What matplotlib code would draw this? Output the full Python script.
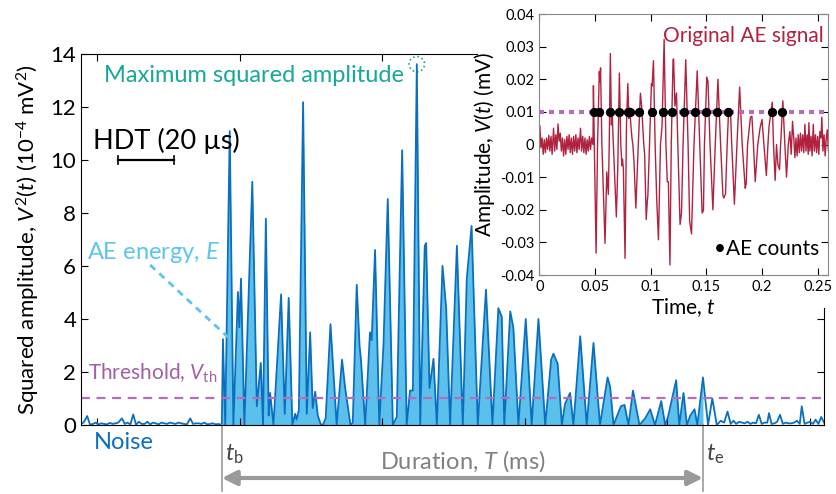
import numpy as np
import matplotlib.pyplot as plt
from matplotlib.patches import Ellipse, Rectangle
from matplotlib.ticker import FixedLocator, FormatStrFormatter

plt.rcParams['font.family'] = ['Lato', 'DejaVu Sans']
plt.rcParams['mathtext.fontset'] = 'custom'
plt.rcParams['mathtext.rm'] = 'Lato'
plt.rcParams['mathtext.it'] = 'Lato:italic'
plt.rcParams['mathtext.bf'] = 'Lato:bold'

# AE waveform, time in ms, amplitude in mV
time_ms = np.array([
    -0.0017, -0.0008, 0.0005, 0.0015, 0.0025, 0.0035, 0.0045, 0.0055, 0.0065, 0.0075,
    0.0085, 0.0095, 0.0105, 0.0115, 0.0128, 0.0138, 0.0148, 0.0158, 0.0168, 0.0178,
    0.0188, 0.0198, 0.0208, 0.0218, 0.0228, 0.0238, 0.0248, 0.0258, 0.0268, 0.0278,
    0.0288, 0.0298, 0.0308, 0.0318, 0.0328, 0.0338, 0.0348, 0.0358, 0.0370, 0.0380,
    0.0390, 0.0400, 0.0410, 0.0420, 0.0430, 0.0440, 0.0450, 0.0460, 0.0470,
    0.0482, 0.0486, 0.0494, 0.0510, 0.0523, 0.0539, 0.0544, 0.0550, 0.0562, 0.0590,
    0.0606, 0.0620, 0.0628, 0.0638, 0.0648, 0.0653, 0.0665, 0.0692, 0.0705, 0.0719,
    0.0732, 0.0742, 0.0747, 0.0755, 0.0770, 0.0783, 0.0795, 0.0804, 0.0813, 0.0822,
    0.0832, 0.0840, 0.0850, 0.0867, 0.0889, 0.0908, 0.0919, 0.0938, 0.0946, 0.0960,
    0.0970, 0.0975, 0.0990, 0.1007, 0.1013, 0.1025, 0.1040, 0.1055, 0.1070, 0.1088,
    0.1102, 0.1121, 0.1137, 0.1149, 0.1159, 0.1173, 0.1185, 0.1201, 0.1206, 0.1218,
    0.1232, 0.1244, 0.1264, 0.1277, 0.1291, 0.1315, 0.1336, 0.1350, 0.1367, 0.1389,
    0.1418, 0.1441, 0.1462, 0.1474, 0.1483, 0.1504, 0.1515, 0.1533, 0.1559, 0.1580,
    0.1604, 0.1628, 0.1649, 0.1657, 0.1672, 0.1687, 0.1698, 0.1716, 0.1728, 0.1752,
    0.1775, 0.1799, 0.1822, 0.1849, 0.1858, 0.1870, 0.1896, 0.1909, 0.1923, 0.1939,
    0.1962, 0.1982, 0.2000, 0.2017, 0.2039, 0.2053, 0.2063, 0.2092, 0.2103, 0.2118,
    0.2130, 0.2142, 0.2157, 0.2167, 0.2187, 0.2205, 0.2220, 0.2236,
    0.2250, 0.2262, 0.2274, 0.2285, 0.2295, 0.2305, 0.2315, 0.2325, 0.2335, 0.2345,
    0.2355, 0.2365, 0.2375, 0.2385, 0.2395, 0.2405, 0.2415, 0.2421, 0.2430, 0.2440,
    0.2450, 0.2460, 0.2470, 0.2480, 0.2490, 0.2500, 0.2510, 0.2520, 0.2530, 0.2537,
    0.2547, 0.2557, 0.2567, 0.2577, 0.2586, 0.2596, 0.2606, 0.2616])

amp_mv = np.array([
    -0.0020, 0.0030, 0.0058, -0.0010, 0.0020, -0.0030, 0.0015, -0.0025, 0.0020, -0.0015,
    0.0028, -0.0020, 0.0025, -0.0030, 0.0050, -0.0020, 0.0030, -0.0015, 0.0063, 0.0010,
    0.0035, -0.0020, 0.0020, -0.0035, 0.0015, -0.0030, 0.0025, -0.0015, 0.0030, -0.0025,
    0.0020, -0.0030, 0.0025, -0.0020, 0.0030, -0.0025, 0.0020, -0.0015, 0.0050, -0.0020,
    0.0025, -0.0025, 0.0020, -0.0030, 0.0015, -0.0020, 0.0025, -0.0015, 0.0020,
    0.0, 0.0180, 0.0, -0.0333, 0.0, 0.0224, 0.0192, 0.0235, 0.0, -0.0303,
    -0.0084, -0.0153, 0.0, 0.0279, 0.0060, 0.0110, 0.0, -0.0222, -0.0065, 0.0219,
    0.0, -0.0065, -0.0045, -0.0075, -0.0349, 0.0065, 0.0187, 0.0080, 0.0112, 0.0060,
    0.0020, 0.0, -0.0050, -0.0195, 0.0, 0.0157, 0.0118, 0.0, -0.0030, -0.0230,
    -0.0173, -0.0157, 0.0, 0.0187, 0.0179, 0.0257, 0.0, -0.0175, -0.0292, 0.0,
    0.0055, 0.0322, 0.0, -0.0114, -0.0114, -0.0369, 0.0, 0.0260, 0.0262, 0.0118,
    0.0158, 0.0, -0.0245, -0.0210, 0.0, 0.0260, 0.0, -0.0235, -0.0274, 0.0,
    0.0226, 0.0, -0.0210, -0.0202, 0.0, 0.0207, 0.0192, 0.0, -0.0200, 0.0,
    0.0200, 0.0, -0.0157, -0.0164, -0.0152, 0.0, 0.0089, 0.0110, 0.0, -0.0183,
    0.0, 0.0176, 0.0, -0.0134, -0.0120, 0.0, 0.0084, 0.0087, 0.0, -0.0114,
    0.0, 0.0050, 0.0077, 0.0, -0.0095, 0.0, 0.0055, 0.0130, 0.0, -0.0110,
    0.0, -0.0060, -0.0077, 0.0, 0.0134, 0.0, -0.0100, 0.0,
    0.0040, -0.0030, 0.0071, 0.0020, -0.0040, 0.0020, -0.0035, 0.0030, -0.0025, 0.0035,
    -0.0020, 0.0030, -0.0025, 0.0062, -0.0020, 0.0030, -0.0030, 0.0067, -0.0020, 0.0025,
    -0.0035, 0.0062, -0.0020, 0.0030, -0.0025, 0.0025, -0.0030, 0.0040, 0.0020, 0.0084,
    -0.0020, 0.0030, -0.0035, 0.0020, 0.0045, -0.0020, 0.0055, -0.0030])

# threshold crossings counted as AE hits
count_ms = np.array([0.0491, 0.0536, 0.0635, 0.0716, 0.0799, 0.0814, 0.0898, 0.1009, 0.1108,
                     0.1189, 0.1302, 0.1398, 0.1494, 0.1592, 0.1691, 0.2086, 0.2176])
threshold_mv = 0.01
t_begin = 0.0482
t_end = 0.2187
hdt_ms = 0.020

# squared amplitude in units of 1e-4 mV^2
sq_amp = (amp_mv * 100) ** 2
sq_threshold = (threshold_mv * 100) ** 2

line_blue = '#0b6fbf'
fill_blue = '#5cc0ec'
teal = '#16a898'
purple = '#a25ea6'
crimson = '#b0223f'
grey = '#9a9a9a'

fig = plt.figure(figsize=(8.36, 4.94), dpi=100)
ax = fig.add_axes([0.0969, 0.1397, 0.8888, 0.751], zorder=1)

burst = (time_ms >= t_begin) & (time_ms <= t_end)
ax.fill_between(time_ms, 0, sq_amp, where=burst, color=fill_blue, lw=0)
ax.plot(time_ms, sq_amp, color=line_blue, lw=1.3)
ax.axhline(sq_threshold, color='#b86cbc', ls=(0, (4, 3)), lw=1.6)

ax.set_xlim(-0.0017, 0.2616)
ax.set_ylim(0, 14)
ax.xaxis.set_major_locator(FixedLocator([0.004 + 0.0505 * k for k in range(6)]))
ax.yaxis.set_major_locator(FixedLocator(np.arange(0, 15, 2)))
ax.tick_params(direction='in', top=True, right=True, labelbottom=False, labelsize=16, length=5)
ax.set_ylabel(r'Squared amplitude, $V^2(t)$ ($10^{-4}$ mV$^2$)', fontsize=16, labelpad=6)

# peak marker
i_max = np.argmax(sq_amp)
ax.add_patch(Ellipse((time_ms[i_max], sq_amp[i_max]), 0.0055, 0.58, fill=False,
                     ec=teal, ls=':', lw=1.2, clip_on=False))
ax.text(0.0065, 13.2, 'Maximum squared amplitude', color=teal, fontsize=17, va='center')

# hit definition time scale bar
ax.text(0.0026, 10.7, 'HDT (20 \u00b5s)', color='black', fontsize=19.5, va='center')
ax.plot([0.0114, 0.0114 + hdt_ms], [10.0, 10.0], color='black', lw=1.6)
ax.plot([0.0114, 0.0114], [9.85, 10.15], color='black', lw=1.2)
ax.plot([0.0114 + hdt_ms, 0.0114 + hdt_ms], [9.85, 10.15], color='black', lw=1.2)

ax.text(0.0005, 6.5, r'AE energy, $E$', color='#5cc4ee', fontsize=17, va='center')
ax.plot([0.0228, 0.0505], [6.04, 3.3], color='#5cc4ee', ls=(0, (2.5, 2)), lw=2)
ax.text(0.0008, 1.95, r'Threshold, $V_{\rm th}$', color=purple, fontsize=15, va='center')
ax.text(0.0030, -0.65, 'Noise', color=line_blue, fontsize=17, va='center')

# event start / end and duration arrow
for tt, lab in [(t_begin, r'$t_{\rm b}$'), (t_end, r'$t_{\rm e}$')]:
    ax.plot([tt, tt], [0, -2.5], color=grey, lw=1.2, clip_on=False)
    ax.text(tt + 0.0012, -1.1, lab, color='#444444', fontsize=17, va='center')
ax.annotate('', xy=(t_end, -2.0), xytext=(t_begin, -2.0),
            arrowprops=dict(arrowstyle='<|-|>', color=grey, lw=3, mutation_scale=22,
                            shrinkA=0, shrinkB=0), annotation_clip=False)
ax.text((t_begin + t_end) / 2, -1.35, r'Duration, $T$ (ms)', color='#808080', fontsize=17,
        ha='center', va='center')

# white backing behind the inset and its labels
for x0, y0, x1, y1 in [(478, 0, 836, 283), (530, 283, 836, 308)]:
    fig.add_artist(Rectangle((x0 / 836, (494 - y1) / 494), (x1 - x0) / 836, (y1 - y0) / 494,
                             transform=fig.transFigure, fc='white', ec='none', zorder=1.5))

ins = fig.add_axes([0.6451, 0.4433, 0.345, 0.5283], zorder=2)
ins.plot(time_ms, amp_mv, color=crimson, lw=1.0)
ins.axhline(threshold_mv, color='#b86cbc', ls=(0, (1.2, 1.2)), lw=3)
ins.scatter(count_ms, np.full(count_ms.shape, threshold_mv), s=32, color='black', zorder=3)
ins.set_xlim(0, 0.259)
ins.set_ylim(-0.04, 0.04)
ins.xaxis.set_major_locator(FixedLocator([0, 0.05, 0.1, 0.15, 0.2, 0.25]))
ins.yaxis.set_major_locator(FixedLocator(np.linspace(-0.04, 0.04, 9)))
ins.xaxis.set_major_formatter(FormatStrFormatter('%g'))
ins.yaxis.set_major_formatter(FormatStrFormatter('%g'))
ins.tick_params(direction='in', top=True, right=True, labelsize=10.5, length=5)
ins.set_xlabel(r'Time, $t$', fontsize=15, labelpad=2)
ins.set_ylabel(r'Amplitude, $V(t)$ (mV)', fontsize=15, labelpad=2)
for s in ins.spines.values():
    s.set_color('#888888')
ins.text(0.985, 0.955, 'Original AE signal', color=crimson, fontsize=15,
         transform=ins.transAxes, ha='right', va='top')
ins.text(0.97, 0.06, '\u2022AE counts', color='black', fontsize=15,
         transform=ins.transAxes, ha='right', va='bottom')

fig.savefig('out.png', dpi=100)
